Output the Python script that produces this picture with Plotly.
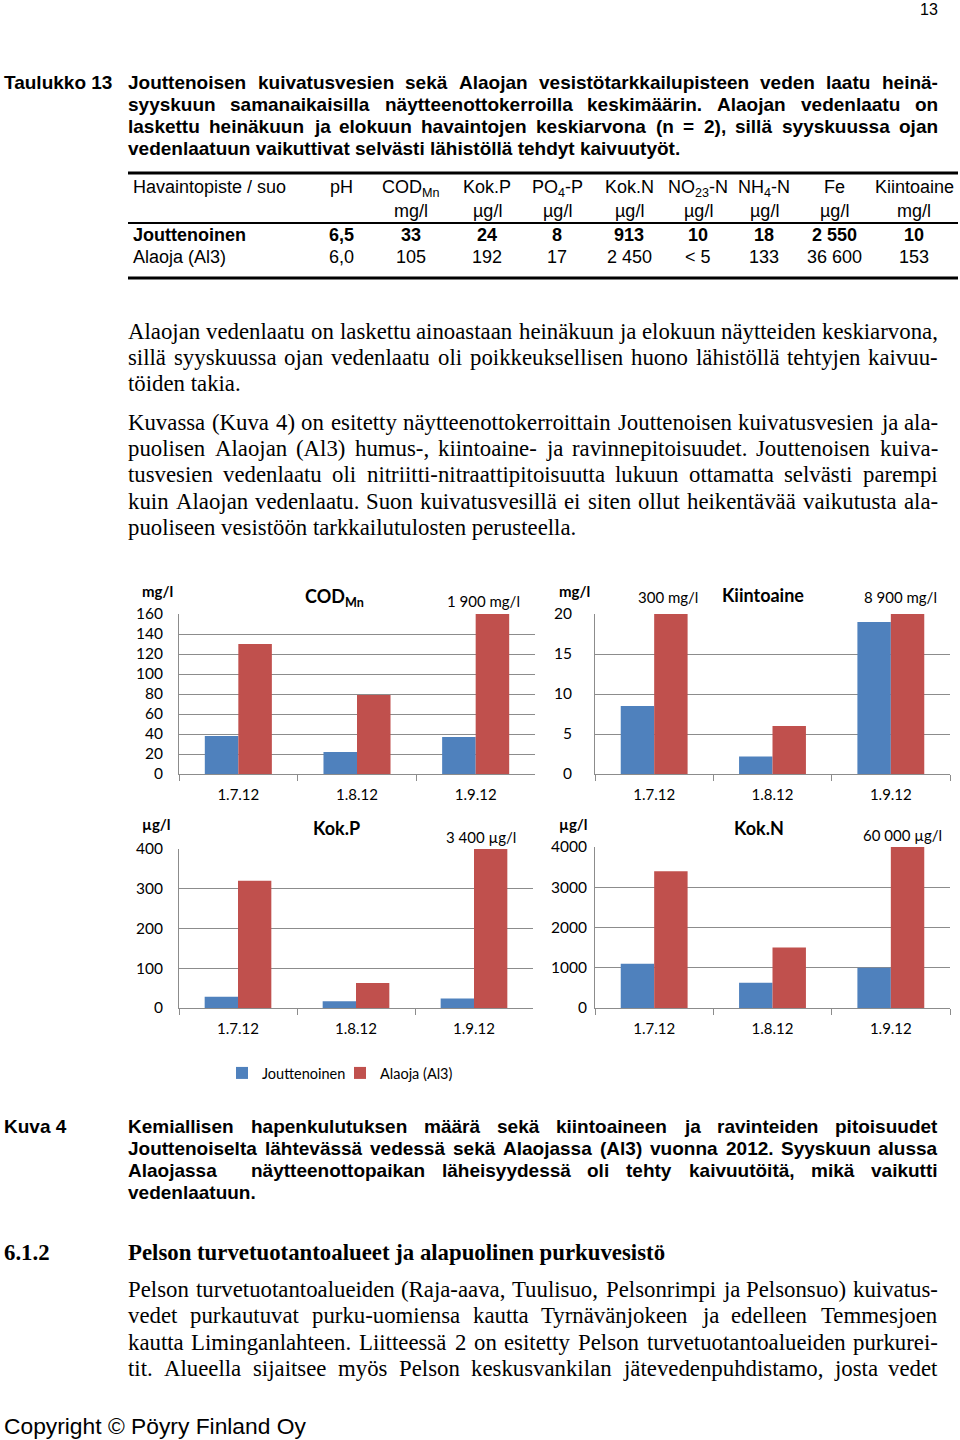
import plotly.graph_objects as go

# ---------------- data ----------------
dates = ["1.7.12", "1.8.12", "1.9.12"]
series_names = ["Jouttenoinen", "Alaoja (Al3)"]
cod_jout = [38, 22, 37]
cod_ala = [130, 79, 1900]
kiinto_jout = [8.5, 2.2, 19]
kiinto_ala = [300, 6, 8900]
kokp_jout = [28, 17, 24]
kokp_ala = [320, 63, 3400]
kokn_jout = [1100, 630, 1000]
kokn_ala = [3400, 1500, 60000]

table_cols = ["pH", "COD<sub>Mn</sub>", "Kok.P", "PO<sub>4</sub>-P", "Kok.N",
              "NO<sub>23</sub>-N", "NH<sub>4</sub>-N", "Fe", "Kiintoaine"]
table_units = ["", "mg/l", "µg/l", "µg/l", "µg/l", "µg/l", "µg/l", "µg/l", "mg/l"]
row_jout = ["6,5", "33", "24", "8", "913", "10", "18", "2 550", "10"]
row_ala = ["6,0", "105", "192", "17", "2 450", "< 5", "133", "36 600", "153"]

BLUE = "#4F81BD"
RED = "#C0504D"
GRID = "#8C8C8C"
W, H = 960, 1440


def px(x):
    return x / W


def py(y):
    return 1 - y / H


fig = go.Figure()

panels = [
    (cod_jout, cod_ala, "x", "y"),
    (kiinto_jout, kiinto_ala, "x2", "y2"),
    (kokp_jout, kokp_ala, "x3", "y3"),
    (kokn_jout, kokn_ala, "x4", "y4"),
]
for i, (bj, ba, xa, ya) in enumerate(panels):
    fig.add_trace(go.Bar(x=dates, y=bj, name=series_names[0], marker_color=BLUE,
                         xaxis=xa, yaxis=ya, showlegend=(i == 0), legendgroup="j",
                         marker_line_width=0))
    fig.add_trace(go.Bar(x=dates, y=ba, name=series_names[1], marker_color=RED,
                         xaxis=xa, yaxis=ya, showlegend=(i == 0), legendgroup="a",
                         marker_line_width=0))

CF = "Lato, Calibri, sans-serif"


def xaxis(dom, anchor):
    return dict(domain=dom, anchor=anchor, type="category", showline=True,
                linecolor=GRID, linewidth=1, ticks="outside", tickson="boundaries",
                ticklen=6, tickcolor=GRID, showgrid=False, automargin=False,
                tickfont=dict(family=CF, size=15, color="#000"), ticklabelstandoff=7)


def yaxis(dom, anchor, rng, dtick, standoff):
    return dict(domain=dom, anchor=anchor, range=rng, dtick=dtick, showgrid=True,
                gridcolor=GRID, gridwidth=1, showline=True, linecolor=GRID,
                zeroline=False, ticks="", automargin=False,
                tickfont=dict(family=CF, size=15.5, color="#000"),
                ticklabelstandoff=standoff)


fig.update_layout(
    width=W, height=H, margin=dict(l=0, r=0, t=0, b=0, pad=0, autoexpand=False),
    paper_bgcolor="white", plot_bgcolor="white",
    barmode="group", bargap=0.435, bargroupgap=0,
    xaxis=xaxis([px(179), px(535)], "y"),
    yaxis=yaxis([py(774), py(614)], "x", [0, 160], 20, 12),
    xaxis2=xaxis([px(595), px(950)], "y2"),
    yaxis2=yaxis([py(774), py(614)], "x2", [0, 20], 5, 19),
    xaxis3=xaxis([px(179), px(533)], "y3"),
    yaxis3=yaxis([py(1008), py(849)], "x3", [0, 400], 100, 12),
    xaxis4=xaxis([px(595), px(950)], "y4"),
    yaxis4=yaxis([py(1008), py(847)], "x4", [0, 4000], 1000, 4),
    legend=dict(orientation="h", x=px(222), y=py(1073), xanchor="left", yanchor="middle",
                font=dict(family=CF, size=14.5, color="#000"), itemwidth=30,
                entrywidth=73, bgcolor="rgba(0,0,0,0)"),
)

ann = []
ARIAL = "Liberation Sans, Arial, sans-serif"
TIMES = "Liberation Serif, Times New Roman, serif"
DOC_SHIFT = 0.5


def T(text, x, y, size, family, bold=False, xanchor="left", color="#000", doc=True,
      yanchor="middle"):
    if bold:
        text = "<b>" + text + "</b>"
    yy = y - DOC_SHIFT if (doc and yanchor == "middle") else y
    ann.append(dict(text=text, x=px(x), y=py(yy), xref="paper", yref="paper",
                    xanchor=xanchor, yanchor=yanchor, showarrow=False, borderpad=0,
                    font=dict(size=size, family=family, color=color)))


# --- character widths (per 1000 em) used to justify text lines ---
def build(table, default):
    d = {}
    for chars, w in table:
        for c in chars:
            d[c] = w
    return d, default


ARIAL_B = build([
    (" ,./", 278), ("()-:", 333), ("0123456789", 556), ("=", 584),
    ("ACDHKNRUÄ", 722), ("BÅ", 722), ("E", 667), ("F", 611), ("GOQÖ", 778), ("I", 278),
    ("J", 556), ("L", 611), ("M", 833), ("PSVXY", 667), ("TZ", 611), ("W", 944),
    ("aäceksvxy", 556), ("bdghnopquöü", 611), ("f", 333), ("ijl", 278), ("m", 889),
    ("r", 389), ("t", 333), ("w", 778), ("z", 500),
], 556)

TIMES_R = build([
    (" ,.", 250), ("()-", 333), ("0123456789", 500), (":", 278),
    ("ADGHKNOQUVXYÄÖ", 722), ("BCR", 667), ("ELT", 611), ("FPS", 556), ("I", 333),
    ("J", 389), ("M", 889), ("W", 944), ("Z", 611),
    ("aäcez", 444), ("bdghknopquvxyöü", 500), ("f", 333), ("ijlt", 278), ("m", 778),
    ("r", 333), ("s", 389), ("w", 722),
], 500)


def width(word, metrics, size):
    table, default = metrics
    return sum(table.get(c, default) for c in word) * size / 1000.0


def J(line, x0, x1, y, size, family, metrics, bold=False):
    words = line.split(" ")
    ws = [width(w, metrics, size) for w in words]
    gap = (x1 - x0 - sum(ws)) / (len(words) - 1)
    x = x0
    for i, w in enumerate(words):
        if w:
            if i == len(words) - 1:
                T(w, x1 + 1, y, size, family, bold, xanchor="right")
            else:
                T(w, x - 1, y, size, family, bold)
        x += ws[i] + gap


T("13", 939, 0, 16, ARIAL, xanchor="right", yanchor="top")

# Table caption
HB = 19
T("Taulukko 13", 3, 83, HB, ARIAL, True)
cap_lines = [
    "Jouttenoisen kuivatusvesien sekä Alaojan vesistötarkkailupisteen veden laatu heinä-",
    "syyskuun samanaikaisilla näytteenottokerroilla keskimäärin. Alaojan vedenlaatu on",
    "laskettu heinäkuun ja elokuun havaintojen keskiarvona (n = 2), sillä syyskuussa ojan",
    "vedenlaatuun vaikuttivat selvästi lähistöllä tehdyt kaivuutyöt.",
]
for i, l in enumerate(cap_lines):
    if i < 3:
        J(l, 128, 938, 83 + 22 * i, HB, ARIAL, ARIAL_B, True)
    else:
        T(l, 127, 83 + 22 * i, HB, ARIAL, True)

# Table
TS = 18
col_x = [341, 411, 487, 557, 629, 698, 764, 834, 914]
T("Havaintopiste / suo", 132, 187, TS, ARIAL)
for cx, c in zip(col_x, table_cols):
    T(c, cx, 187 if "sub" not in c else 189, TS, ARIAL, xanchor="center")
for cx, u in zip(col_x, table_units):
    if u:
        T(u, cx, 212, TS, ARIAL, xanchor="center")
T("Jouttenoinen", 132, 235, TS, ARIAL, True)
for cx, v in zip(col_x, row_jout):
    T(v, cx, 235, TS, ARIAL, True, xanchor="center")
T("Alaoja (Al3)", 132, 258, TS, ARIAL)
for cx, v in zip(col_x, row_ala):
    T(v, cx, 258, TS, ARIAL, xanchor="center")

shapes = [
    dict(type="line", xref="paper", yref="paper", x0=px(128), x1=px(958), y0=py(173), y1=py(173),
         line=dict(color="#000", width=3)),
    dict(type="line", xref="paper", yref="paper", x0=px(128), x1=px(958), y0=py(223), y1=py(223),
         line=dict(color="#000", width=2)),
    dict(type="line", xref="paper", yref="paper", x0=px(128), x1=px(958), y0=py(278), y1=py(278),
         line=dict(color="#000", width=3)),
]

BS = 22.8
para1 = [
    "Alaojan vedenlaatu on laskettu ainoastaan heinäkuun ja elokuun näytteiden keskiarvona,",
    "sillä syyskuussa ojan vedenlaatu oli poikkeuksellisen huono lähistöllä tehtyjen kaivuu-",
    "töiden takia.",
]
for i, l in enumerate(para1):
    if i < 2:
        J(l, 128, 938, 332 + 26 * i, BS, TIMES, TIMES_R)
    else:
        T(l, 127, 332 + 26 * i, BS, TIMES)
para2 = [
    "Kuvassa (Kuva 4) on esitetty näytteenottokerroittain Jouttenoisen kuivatusvesien ja ala-",
    "puolisen Alaojan (Al3) humus-, kiintoaine- ja ravinnepitoisuudet. Jouttenoisen kuiva-",
    "tusvesien vedenlaatu oli nitriitti-nitraattipitoisuutta lukuun ottamatta selvästi parempi",
    "kuin Alaojan vedenlaatu. Suon kuivatusvesillä ei siten ollut heikentävää vaikutusta ala-",
    "puoliseen vesistöön tarkkailutulosten perusteella.",
]
for i, l in enumerate(para2):
    if i < 4:
        J(l, 128, 938, 423 + 26.2 * i, BS, TIMES, TIMES_R)
    else:
        T(l, 127, 423 + 26.2 * i, BS, TIMES)

# Chart labels
T("mg/l", 141, 591, 15, CF, True, doc=False)
T("COD<sub>Mn</sub>", 304, 597, 18, CF, True, doc=False)
T("1 900 mg/l", 483, 601, 15, CF, xanchor="center", doc=False)
T("mg/l", 558, 591, 15, CF, True, doc=False)
T("300 mg/l", 668, 597, 15, CF, xanchor="center", doc=False)
T("Kiintoaine", 763, 595, 18, CF, True, xanchor="center", doc=False)
T("8 900 mg/l", 900, 597, 15, CF, xanchor="center", doc=False)
T("µg/l", 141, 824, 15, CF, True, doc=False)
T("Kok.P", 336, 828, 18, CF, True, xanchor="center", doc=False)
T("3 400 µg/l", 481, 837, 15, CF, xanchor="center", doc=False)
T("µg/l", 558, 824, 15, CF, True, doc=False)
T("Kok.N", 759, 828, 18, CF, True, xanchor="center", doc=False)
T("60 000 µg/l", 902, 835, 15, CF, xanchor="center", doc=False)

# Figure caption
T("Kuva 4", 3, 1127, HB, ARIAL, True)
fig_cap = [
    "Kemiallisen hapenkulutuksen määrä sekä kiintoaineen ja ravinteiden pitoisuudet",
    "Jouttenoiselta lähtevässä vedessä sekä Alaojassa (Al3) vuonna 2012. Syyskuun alussa",
    "Alaojassa  näytteenottopaikan läheisyydessä oli tehty kaivuutöitä, mikä vaikutti",
    "vedenlaatuun.",
]
for i, l in enumerate(fig_cap):
    if i < 3:
        J(l, 128, 938, 1127 + 22 * i, HB, ARIAL, ARIAL_B, True)
    else:
        T(l, 127, 1127 + 22 * i, HB, ARIAL, True)

T("6.1.2", 3, 1253, BS, TIMES, True)
T("Pelson turvetuotantoalueet ja alapuolinen purkuvesistö", 127, 1253, BS, TIMES, True)
para3 = [
    "Pelson turvetuotantoalueiden (Raja-aava, Tuulisuo, Pelsonrimpi ja Pelsonsuo) kuivatus-",
    "vedet purkautuvat purku-uomiensa kautta Tyrnävänjokeen ja edelleen Temmesjoen",
    "kautta Liminganlahteen. Liitteessä 2 on esitetty Pelson turvetuotantoalueiden purkurei-",
    "tit. Alueella sijaitsee myös Pelson keskusvankilan jätevedenpuhdistamo, josta vedet",
]
for i, l in enumerate(para3):
    J(l, 128, 938, 1290 + 26.3 * i, BS, TIMES, TIMES_R)

T("Copyright © Pöyry Finland Oy", 3, 1440, 22.8, ARIAL, yanchor="bottom")

fig.update_layout(annotations=ann, shapes=shapes)
fig.write_html("out.html")
